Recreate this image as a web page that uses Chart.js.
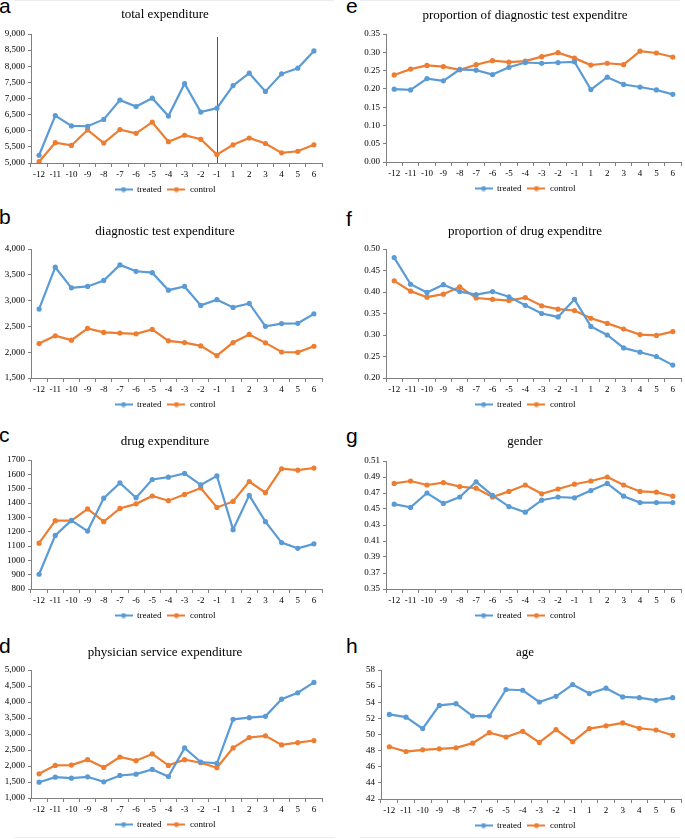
<!DOCTYPE html>
<html>
<head>
<meta charset="utf-8">
<script src="https://cdn.jsdelivr.net/npm/chart.js@4/dist/chart.umd.min.js"></script>
<style>
  html, body { margin: 0; padding: 0; background: #fff; }
  body { width: 685px; height: 839px; position: relative; overflow: hidden; }
  .box { position: absolute; }
  .tag { position: absolute; font-family: "Liberation Sans", Arial, sans-serif; font-size: 21px; line-height: 21px; color: #000; }
  .rule { position: absolute; height: 1px; background: #ececec; }
</style>
</head>
<body>
<div class="rule" style="left:14px; top:0; width:320px"></div>
<div class="rule" style="left:360px; top:0; width:320px"></div>
<div class="rule" style="left:14px; top:837px; width:320px"></div>
<div class="rule" style="left:360px; top:837px; width:320px"></div>

<div class="tag" style="left:-1px; top:-5px">a</div>
<div class="tag" style="left:346px; top:-5px">e</div>
<div class="tag" style="left:-1px; top:206px">b</div>
<div class="tag" style="left:346px; top:208px">f</div>
<div class="tag" style="left:-1px; top:424px">c</div>
<div class="tag" style="left:346px; top:425px">g</div>
<div class="tag" style="left:-1px; top:635px">d</div>
<div class="tag" style="left:346px; top:635px">h</div>

<div class="box" id="pa"><canvas id="ca"></canvas></div>
<div class="box" id="pb"><canvas id="cb"></canvas></div>
<div class="box" id="pc"><canvas id="cc"></canvas></div>
<div class="box" id="pd"><canvas id="cd"></canvas></div>
<div class="box" id="pe"><canvas id="ce"></canvas></div>
<div class="box" id="pf"><canvas id="cf"></canvas></div>
<div class="box" id="pg"><canvas id="cg"></canvas></div>
<div class="box" id="ph"><canvas id="ch"></canvas></div>

<script>
const periods = ['-12','-11','-10','-9','-8','-7','-6','-5','-4','-3','-2','-1','1','2','3','4','5','6'];

const totalTreated = [5240,6470,6150,6140,6350,6950,6750,7010,6455,7460,6580,6700,7400,7785,7220,7765,7940,8475];
const totalControl = [5040,5630,5545,6025,5620,6035,5920,6265,5660,5860,5735,5260,5565,5775,5605,5315,5365,5565];

const diagTreated = [2835,3647,3247,3274,3391,3692,3568,3542,3202,3274,2907,3018,2868,2946,2501,2554,2560,2743];
const diagControl = [2168,2318,2233,2462,2384,2370,2357,2442,2220,2187,2122,1932,2187,2344,2181,2004,1997,2115];

const drugTreated = [903,1174,1279,1204,1434,1540,1437,1564,1580,1606,1526,1589,1214,1453,1270,1124,1084,1115];
const drugControl = [1120,1277,1277,1359,1270,1362,1394,1449,1416,1460,1505,1369,1411,1550,1472,1639,1629,1644];

const physTreated = [1494,1651,1620,1662,1504,1704,1746,1893,1672,2565,2124,2082,3458,3510,3552,4088,4288,4613];
const physControl = [1756,2019,2029,2197,1956,2282,2166,2376,2019,2197,2103,1945,2565,2891,2943,2660,2733,2796];

const propDiagTreated = [0.199,0.197,0.228,0.222,0.253,0.251,0.239,0.259,0.272,0.270,0.272,0.274,0.198,0.232,0.212,0.205,0.197,0.185];
const propDiagControl = [0.238,0.254,0.264,0.261,0.252,0.266,0.277,0.273,0.276,0.288,0.299,0.284,0.265,0.270,0.266,0.303,0.298,0.287];

const propDrugTreated = [0.480,0.418,0.399,0.417,0.401,0.394,0.401,0.389,0.369,0.350,0.342,0.383,0.320,0.300,0.270,0.260,0.250,0.230];
const propDrugControl = [0.426,0.402,0.388,0.395,0.412,0.386,0.383,0.380,0.387,0.368,0.360,0.357,0.339,0.327,0.314,0.301,0.299,0.308];

const genderTreated = [0.456,0.452,0.470,0.457,0.465,0.484,0.467,0.453,0.446,0.461,0.465,0.464,0.473,0.482,0.466,0.458,0.458,0.458];
const genderControl = [0.482,0.485,0.480,0.483,0.478,0.476,0.465,0.472,0.480,0.469,0.475,0.481,0.485,0.490,0.480,0.472,0.471,0.466];

const ageTreated = [52.49,52.15,50.73,53.61,53.82,52.28,52.28,55.58,55.49,54.03,54.74,56.20,55.08,55.74,54.66,54.57,54.24,54.57];
const ageControl = [48.48,47.89,48.10,48.22,48.35,48.93,50.23,49.69,50.40,49.02,50.60,49.10,50.73,51.07,51.44,50.77,50.56,49.90];

const BLUE = '#5B9BD5';
const ORANGE = '#ED7D31';
const AXIS = '#808080';
const SERIF = '"Liberation Serif", "Times New Roman", serif';

// little line + dot used as legend symbol
function legendSymbol(color) {
  const c = document.createElement('canvas');
  c.width = 18; c.height = 6;
  const g = c.getContext('2d');
  g.strokeStyle = color; g.lineWidth = 2;
  g.beginPath(); g.moveTo(0, 3); g.lineTo(18, 3); g.stroke();
  g.fillStyle = color;
  g.beginPath(); g.arc(9, 3, 2.5, 0, Math.PI * 2); g.fill();
  return c;
}
const symbols = [legendSymbol(BLUE), legendSymbol(ORANGE)];

// vertical marker at period -1 (panel a only)
const markerLine = {
  id: 'markerLine',
  beforeDatasetsDraw(chart) {
    const x = chart.scales.x.getPixelForValue(periods.indexOf('-1'));
    const ctx = chart.ctx;
    ctx.save();
    ctx.strokeStyle = '#595959';
    ctx.lineWidth = 1;
    ctx.beginPath();
    ctx.moveTo(Math.round(x) + 0.5, chart.chartArea.top + 3);
    ctx.lineTo(Math.round(x) + 0.5, chart.chartArea.bottom);
    ctx.stroke();
    ctx.restore();
  }
};

function panel(key, left, top, plotTop, plotBottom, titleY, title, treated, control, yMin, yMax, step, fmt, extra, axisW) {
  const right = left > 300;
  // y axis width puts the axis line where the reference has it; the empty right
  // axis keeps title and legend centred like the reference
  const width = right ? 360 : 330;
  const spareW = right ? 24 : 8;
  const height = plotBottom + 42 - top;
  const box = document.getElementById('p' + key);
  box.style.left = left + 'px';
  box.style.top = top + 'px';
  box.style.width = width + 'px';
  box.style.height = height + 'px';

  const tPadTop = titleY - top - 7.8;
  const tPadBottom = plotTop - top - tPadTop - 15.6;

  return new Chart(document.getElementById('c' + key), {
    type: 'line',
    plugins: extra ? [extra] : [],
    data: {
      labels: periods,
      datasets: [
        { label: 'treated', data: treated, borderColor: BLUE, backgroundColor: BLUE,
          borderWidth: 2.2, pointRadius: 2.6, pointBorderWidth: 0, tension: 0 },
        { label: 'control', data: control, borderColor: ORANGE, backgroundColor: ORANGE,
          borderWidth: 2.2, pointRadius: 2.6, pointBorderWidth: 0, tension: 0 }
      ]
    },
    options: {
      responsive: true,
      maintainAspectRatio: false,
      animation: false,
      layout: { padding: 0 },
      plugins: {
        title: {
          display: true,
          text: title,
          color: '#000',
          font: { family: SERIF, size: 13, weight: 'normal', lineHeight: 1.2 },
          padding: { top: tPadTop, bottom: tPadBottom }
        },
        legend: {
          position: 'bottom',
          labels: {
            color: '#000',
            font: { family: SERIF, size: 9 },
            usePointStyle: true,
            pointStyleWidth: 18,
            padding: 6,
            generateLabels(chart) {
              const items = Chart.defaults.plugins.legend.labels.generateLabels(chart);
              items.forEach((it, i) => { it.pointStyle = symbols[i]; });
              return items;
            }
          }
        },
        tooltip: { enabled: false }
      },
      scales: {
        x: {
          offset: true,
          afterFit(s) { s.height = 16; },
          grid: { offset: true, drawOnChartArea: false, drawTicks: true, tickLength: 4, color: AXIS },
          border: { color: AXIS, width: 1 },
          ticks: { color: '#000', font: { family: SERIF, size: 9 }, padding: 2, maxRotation: 0, autoSkip: false }
        },
        y: {
          min: yMin, max: yMax,
          afterFit(s) { s.width = axisW; },
          grid: { drawOnChartArea: false, drawTicks: true, tickLength: 3, color: AXIS },
          border: { color: AXIS, width: 1 },
          ticks: { stepSize: step, color: '#000', font: { family: SERIF, size: 9 }, padding: 3,
                   callback: fmt }
        },
        spare: {
          type: 'linear',
          position: 'right',
          afterFit(s) { s.width = spareW; },
          grid: { display: false },
          border: { display: false },
          ticks: { display: false }
        }
      }
    }
  });
}

const thousands = v => v.toLocaleString('en-US');
const plain = v => String(v);
const twoDec = v => v.toFixed(2);

panel('a', 0, 0, 34, 162, 15, 'total expenditure', totalTreated, totalControl, 5000, 9000, 500, thousands, markerLine, 31);
panel('b', 0, 200, 249, 377, 232, 'diagnostic test expenditure', diagTreated, diagControl, 1500, 4000, 500, thousands, null, 31);
panel('c', 0, 405, 460, 588, 442, 'drug expenditure', drugTreated, drugControl, 800, 1700, 100, plain, null, 31);
panel('d', 0, 610, 670, 797, 653, 'physician service expenditure', physTreated, physControl, 1000, 5000, 500, thousands, null, 31);
panel('e', 345, 0, 34, 161, 16, 'proportion of diagnostic test expenditre', propDiagTreated, propDiagControl, 0, 0.35, 0.05, twoDec, null, 41);
panel('f', 345, 200, 249, 377, 232, 'proportion of drug expenditre', propDrugTreated, propDrugControl, 0.2, 0.5, 0.05, twoDec, null, 41);
panel('g', 345, 405, 461, 588, 442, 'gender', genderTreated, genderControl, 0.35, 0.51, 0.02, twoDec, null, 41);
panel('h', 345, 610, 670, 798, 653, 'age', ageTreated, ageControl, 42, 58, 2, plain, null, 36);
</script>
</body>
</html>
